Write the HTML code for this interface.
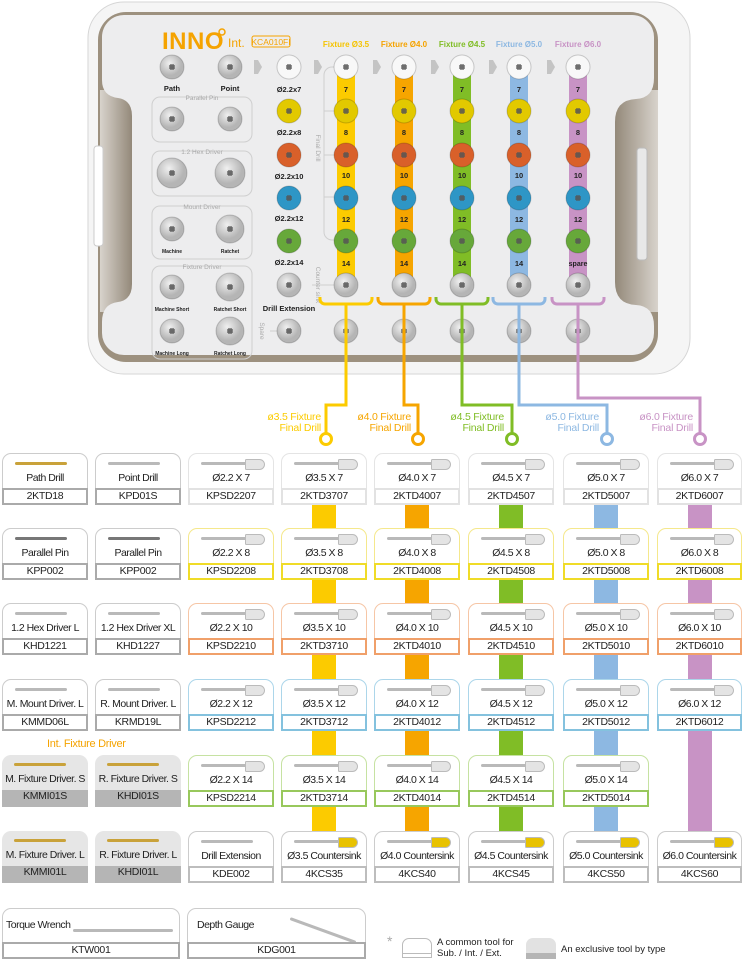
<!DOCTYPE html>
<html><head><meta charset="utf-8"><style>
body{margin:0;width:744px;height:959px;position:relative;background:#fff;font-family:"Liberation Sans",sans-serif;overflow:hidden}
svg{position:absolute;left:0;top:0}
.c{position:absolute;width:86px;height:52px;border:1px solid #ccc;border-radius:9px 9px 0 0;background:#fff;box-sizing:border-box;color:#222}
.c .n{position:absolute;top:18px;left:-4px;right:-4px;text-align:center;font-size:10.5px;letter-spacing:-0.5px;white-space:nowrap}
.c .k{position:absolute;left:-1px;right:-1px;bottom:-1px;height:17px;border:2px solid #aaa;box-sizing:border-box;text-align:center;font-size:10.5px;line-height:13px;background:#fff;letter-spacing:-0.3px}
.c .t{position:absolute;top:8px;left:12px;width:52px;height:3px;background:#b9b9b9;border-radius:2px}
.c .h{position:absolute;top:5px;left:56px;width:18px;height:9px;background:#e4e4e4;border:1px solid #bbb;border-radius:2px 8px 8px 2px}
.g{background:#e6e6e6;border:none}
.g .k{border:none;background:#b5b5b5;left:0;right:0;bottom:0}
.r1{border-color:#e4e4e4}.r1 .k{border-color:#e2e2e2}
.r2{border-color:#f5e88c}.r2 .k{border-color:#f0dc28}
.r3{border-color:#f6c6a6}.r3 .k{border-color:#f0a06a}
.r4{border-color:#acd6ea}.r4 .k{border-color:#84c2de}
.r5{border-color:#c6e2a2}.r5 .k{border-color:#98c85c}
.r6{border-color:#ccc}.r6 .k{border-color:#bdbdbd}
.bar{position:absolute;width:24px}
</style></head><body>
<svg width="744" height="959" viewBox="0 0 744 959">
<defs>
<g id="p"><path d="M-3,-1 L3,-1 M-1,-3 L-1,3 M1,-3 L1,3 M-3,1 L3,1" stroke="#555" stroke-width="1.2"/></g>
<radialGradient id="gg" cx="40%" cy="35%"><stop offset="0" stop-color="#f0f0f0"/><stop offset="1" stop-color="#b5b5b5"/></radialGradient>
<linearGradient id="nl" x1="0" x2="1"><stop offset="0" stop-color="#d8d3cc"/><stop offset="1" stop-color="#8f8474"/></linearGradient>
<linearGradient id="nr" x1="1" x2="0"><stop offset="0" stop-color="#d8d3cc"/><stop offset="1" stop-color="#8f8474"/></linearGradient>
</defs>
<!-- tray -->
<rect x="88" y="2" width="602" height="372" rx="36" fill="#f5f5f5" stroke="#d6d6d6"/>
<rect x="98" y="12" width="560" height="350" rx="28" fill="#9d917f"/>
<rect x="100" y="90" width="34" height="222" fill="url(#nl)"/>
<rect x="612" y="90" width="46" height="222" fill="url(#nr)"/>
<path d="M125,15 H632 A22,22 0 0 1 654,37 V78 Q654,98 636,99 Q615,100 615,122 V282 Q615,304 636,305 Q654,306 654,326 V333 A22,22 0 0 1 632,355 H124 A22,22 0 0 1 102,333 V322 Q102,304 118,302 Q132,300 132,284 V116 Q132,100 118,98 Q102,96 102,80 V37 A22,22 0 0 1 125,15 Z" fill="#ededee"/>
<rect x="94" y="146" width="9" height="100" rx="3" fill="#fff" stroke="#ccc"/>
<rect x="637" y="148" width="10" height="112" rx="3" fill="#e8e8e8" stroke="#bbb"/>
<!-- logo -->
<text x="162" y="49" font-size="24" font-weight="bold" fill="#f5a300" letter-spacing="0.5">INNO</text>
<circle cx="222" cy="32" r="3" fill="none" stroke="#f5a300" stroke-width="1.5"/>
<text x="228" y="47" font-size="12" fill="#f5a300">Int.</text>
<rect x="252" y="36" width="38" height="11" rx="2" fill="none" stroke="#f5a300"/>
<text x="271" y="45" font-size="8.5" fill="#f5a300" text-anchor="middle">KCA010FI</text>
<g font-size="8" font-weight="bold" text-anchor="middle">
<text x="346" y="47" fill="#f5c400">Fixture Ø3.5</text>
<text x="404" y="47" fill="#f5a300">Fixture Ø4.0</text>
<text x="462" y="47" fill="#80bd26">Fixture Ø4.5</text>
<text x="519" y="47" fill="#8db8e2">Fixture Ø5.0</text>
<text x="578" y="47" fill="#c893c5">Fixture Ø6.0</text>
</g>
<!-- arrows -->
<g fill="#c4c4c4">
<path d="M254,60 h4 l4,7 l-4,7 h-4 z"/><path d="M314,60 h4 l4,7 l-4,7 h-4 z"/><path d="M373,60 h4 l4,7 l-4,7 h-4 z"/>
<path d="M431,60 h4 l4,7 l-4,7 h-4 z"/><path d="M489,60 h4 l4,7 l-4,7 h-4 z"/><path d="M547,60 h4 l4,7 l-4,7 h-4 z"/>
</g>
<!-- group boxes -->
<g fill="none" stroke="#cfcfcf">
<rect x="152" y="97" width="100" height="45" rx="8"/>
<rect x="152" y="151" width="100" height="45" rx="8"/>
<rect x="152" y="206" width="100" height="53" rx="8"/>
<rect x="152" y="266" width="100" height="93" rx="8"/>
<path d="M340,67 h-8 a8,8 0 0 0 -8,8 v157 a8,8 0 0 0 8,8 h8 M324,111 h16 M324,155 h16 M324,197 h16"/>
<path d="M312,285 h22 M270,331 h12"/>
</g>
<g font-size="6.5" fill="#aaa" text-anchor="middle">
<text x="202" y="100" fill="#aaa">Parallel Pin</text>
<text x="202" y="154">1.2 Hex Driver</text>
<text x="202" y="209">Mount Driver</text>
<text x="202" y="269">Fixture Driver</text>
<text transform="translate(316,148) rotate(90)">Final Drill</text>
<text transform="translate(316,285) rotate(90)">Counter sink</text>
<text transform="translate(260,331) rotate(90)">Spare</text>
</g>
<!-- tray bars -->
<rect x="337" y="67" width="18" height="210" fill="#fccb00"/>
<rect x="395" y="67" width="18" height="210" fill="#f6a500"/>
<rect x="453" y="67" width="18" height="210" fill="#80bd26"/>
<rect x="510" y="67" width="18" height="210" fill="#8db8e2"/>
<rect x="569" y="67" width="18" height="210" fill="#c893c5"/>
<g font-size="7.5" font-weight="bold" text-anchor="middle" fill="#222">
<text x="346" y="92">7</text><text x="404" y="92">7</text><text x="462" y="92">7</text><text x="519" y="92">7</text><text x="578" y="92">7</text>
<text x="346" y="135">8</text><text x="404" y="135">8</text><text x="462" y="135">8</text><text x="519" y="135">8</text><text x="578" y="135">8</text>
<text x="346" y="178">10</text><text x="404" y="178">10</text><text x="462" y="178">10</text><text x="519" y="178">10</text><text x="578" y="178">10</text>
<text x="346" y="222">12</text><text x="404" y="222">12</text><text x="462" y="222">12</text><text x="519" y="222">12</text><text x="578" y="222">12</text>
<text x="346" y="266">14</text><text x="404" y="266">14</text><text x="462" y="266">14</text><text x="519" y="266">14</text><text x="578" y="266" font-size="7">spare</text>
<text x="289" y="92">Ø2.2x7</text><text x="289" y="135">Ø2.2x8</text><text x="289" y="179">Ø2.2x10</text><text x="289" y="221">Ø2.2x12</text><text x="289" y="265">Ø2.2x14</text>
<text x="289" y="311">Drill Extension</text>
<text x="172" y="91">Path</text><text x="230" y="91">Point</text>
<g font-size="5"><text x="172" y="253">Machine</text><text x="230" y="253">Ratchet</text>
<text x="172" y="311">Machine Short</text><text x="230" y="311">Ratchet Short</text>
<text x="172" y="355">Machine Long</text><text x="230" y="355">Ratchet Long</text></g>
</g>
<!-- screws -->
<g stroke="rgba(0,0,0,0.18)" stroke-width="1">
<g fill="#f8f8f8"><circle cx="289" cy="67" r="12"/><circle cx="346" cy="67" r="12"/><circle cx="404" cy="67" r="12"/><circle cx="462" cy="67" r="12"/><circle cx="519" cy="67" r="12"/><circle cx="578" cy="67" r="12"/></g>
<g fill="#e2c900"><circle cx="289" cy="111" r="12"/><circle cx="346" cy="111" r="12"/><circle cx="404" cy="111" r="12"/><circle cx="462" cy="111" r="12"/><circle cx="519" cy="111" r="12"/><circle cx="578" cy="111" r="12"/></g>
<g fill="#d9602a"><circle cx="289" cy="155" r="12"/><circle cx="346" cy="155" r="12"/><circle cx="404" cy="155" r="12"/><circle cx="462" cy="155" r="12"/><circle cx="519" cy="155" r="12"/><circle cx="578" cy="155" r="12"/></g>
<g fill="#2e96c6"><circle cx="289" cy="198" r="12"/><circle cx="346" cy="198" r="12"/><circle cx="404" cy="198" r="12"/><circle cx="462" cy="198" r="12"/><circle cx="519" cy="198" r="12"/><circle cx="578" cy="198" r="12"/></g>
<g fill="#67a83a"><circle cx="289" cy="241" r="12"/><circle cx="346" cy="241" r="12"/><circle cx="404" cy="241" r="12"/><circle cx="462" cy="241" r="12"/><circle cx="519" cy="241" r="12"/><circle cx="578" cy="241" r="12"/></g>
<g fill="url(#gg)"><circle cx="289" cy="285" r="12"/><circle cx="346" cy="285" r="12"/><circle cx="404" cy="285" r="12"/><circle cx="462" cy="285" r="12"/><circle cx="519" cy="285" r="12"/><circle cx="578" cy="285" r="12"/>
<circle cx="289" cy="331" r="12"/><circle cx="346" cy="331" r="12"/><circle cx="404" cy="331" r="12"/><circle cx="462" cy="331" r="12"/><circle cx="519" cy="331" r="12"/><circle cx="578" cy="331" r="12"/>
<circle cx="172" cy="67" r="12"/><circle cx="230" cy="67" r="12"/><circle cx="172" cy="119" r="12"/><circle cx="230" cy="119" r="12"/>
<circle cx="172" cy="173" r="15"/><circle cx="230" cy="173" r="15"/><circle cx="172" cy="229" r="12"/><circle cx="230" cy="229" r="14"/>
<circle cx="172" cy="287" r="12"/><circle cx="230" cy="287" r="14"/><circle cx="172" cy="331" r="12"/><circle cx="230" cy="331" r="14"/></g>
</g>
<g>
<use href="#p" x="289" y="67"/><use href="#p" x="346" y="67"/><use href="#p" x="404" y="67"/><use href="#p" x="462" y="67"/><use href="#p" x="519" y="67"/><use href="#p" x="578" y="67"/>
<use href="#p" x="289" y="111"/><use href="#p" x="346" y="111"/><use href="#p" x="404" y="111"/><use href="#p" x="462" y="111"/><use href="#p" x="519" y="111"/><use href="#p" x="578" y="111"/>
<use href="#p" x="289" y="155"/><use href="#p" x="346" y="155"/><use href="#p" x="404" y="155"/><use href="#p" x="462" y="155"/><use href="#p" x="519" y="155"/><use href="#p" x="578" y="155"/>
<use href="#p" x="289" y="198"/><use href="#p" x="346" y="198"/><use href="#p" x="404" y="198"/><use href="#p" x="462" y="198"/><use href="#p" x="519" y="198"/><use href="#p" x="578" y="198"/>
<use href="#p" x="289" y="241"/><use href="#p" x="346" y="241"/><use href="#p" x="404" y="241"/><use href="#p" x="462" y="241"/><use href="#p" x="519" y="241"/><use href="#p" x="578" y="241"/>
<use href="#p" x="289" y="285"/><use href="#p" x="346" y="285"/><use href="#p" x="404" y="285"/><use href="#p" x="462" y="285"/><use href="#p" x="519" y="285"/><use href="#p" x="578" y="285"/>
<use href="#p" x="289" y="331"/><use href="#p" x="346" y="331"/><use href="#p" x="404" y="331"/><use href="#p" x="462" y="331"/><use href="#p" x="519" y="331"/><use href="#p" x="578" y="331"/>
<use href="#p" x="172" y="67"/><use href="#p" x="230" y="67"/><use href="#p" x="172" y="119"/><use href="#p" x="230" y="119"/>
<use href="#p" x="172" y="173"/><use href="#p" x="230" y="173"/><use href="#p" x="172" y="229"/><use href="#p" x="230" y="229"/>
<use href="#p" x="172" y="287"/><use href="#p" x="230" y="287"/><use href="#p" x="172" y="331"/><use href="#p" x="230" y="331"/>
</g>
<!-- connectors -->
<g fill="none" stroke-width="3">
<path d="M320,297 v2 a5,5 0 0 0 5,5 h42 a5,5 0 0 0 5,-5 v-2 M346,304 V405 H326 V433" stroke="#fccb00"/>
<path d="M378,297 v2 a5,5 0 0 0 5,5 h42 a5,5 0 0 0 5,-5 v-2 M404,304 V405 H418 V433" stroke="#f6a500"/>
<path d="M436,297 v2 a5,5 0 0 0 5,5 h42 a5,5 0 0 0 5,-5 v-2 M462,304 V405 H512 V433" stroke="#80bd26"/>
<path d="M493,297 v2 a5,5 0 0 0 5,5 h42 a5,5 0 0 0 5,-5 v-2 M519,304 V405 H607 V433" stroke="#8db8e2"/>
<path d="M552,297 v2 a5,5 0 0 0 5,5 h42 a5,5 0 0 0 5,-5 v-2 M578,304 V398 H700 V433" stroke="#c893c5"/>
<circle cx="326" cy="439" r="5.5" stroke="#fccb00"/>
<circle cx="418" cy="439" r="5.5" stroke="#f6a500"/>
<circle cx="512" cy="439" r="5.5" stroke="#80bd26"/>
<circle cx="607" cy="439" r="5.5" stroke="#8db8e2"/>
<circle cx="700" cy="439" r="5.5" stroke="#c893c5"/>
</g>
<g font-size="10.5" text-anchor="end" letter-spacing="-0.2">
<text x="321" y="420" fill="#fccb00">ø3.5 Fixture</text><text x="321" y="431" fill="#fccb00">Final Drill</text>
<text x="411" y="420" fill="#f6a500">ø4.0 Fixture</text><text x="411" y="431" fill="#f6a500">Final Drill</text>
<text x="504" y="420" fill="#80bd26">ø4.5 Fixture</text><text x="504" y="431" fill="#80bd26">Final Drill</text>
<text x="599" y="420" fill="#8db8e2">ø5.0 Fixture</text><text x="599" y="431" fill="#8db8e2">Final Drill</text>
<text x="693" y="420" fill="#c893c5">ø6.0 Fixture</text><text x="693" y="431" fill="#c893c5">Final Drill</text>
</g>
</svg>

<div class="bar" style="left:312px;top:505px;height:326px;background:#fccb00"></div>
<div class="bar" style="left:405px;top:505px;height:326px;background:#f6a500"></div>
<div class="bar" style="left:499px;top:505px;height:326px;background:#80bd26"></div>
<div class="bar" style="left:594px;top:505px;height:326px;background:#8db8e2"></div>
<div class="bar" style="left:688px;top:505px;height:326px;background:#c893c5"></div>

<!-- row1 -->
<div class="c" style="left:2px;top:453px"><i class="t" style="background:#c9a23a"></i><div class="n">Path Drill</div><div class="k">2KTD18</div></div>
<div class="c" style="left:95px;top:453px"><i class="t"></i><div class="n">Point Drill</div><div class="k">KPD01S</div></div>
<div class="c r1" style="left:188px;top:453px"><i class="t"></i><i class="h"></i><div class="n">Ø2.2 X 7</div><div class="k">KPSD2207</div></div>
<div class="c r1" style="left:281px;top:453px"><i class="t"></i><i class="h"></i><div class="n">Ø3.5 X 7</div><div class="k">2KTD3707</div></div>
<div class="c r1" style="left:374px;top:453px"><i class="t"></i><i class="h"></i><div class="n">Ø4.0 X 7</div><div class="k">2KTD4007</div></div>
<div class="c r1" style="left:468px;top:453px"><i class="t"></i><i class="h"></i><div class="n">Ø4.5 X 7</div><div class="k">2KTD4507</div></div>
<div class="c r1" style="left:563px;top:453px"><i class="t"></i><i class="h"></i><div class="n">Ø5.0 X 7</div><div class="k">2KTD5007</div></div>
<div class="c r1" style="left:657px;top:453px;width:85px"><i class="t"></i><i class="h"></i><div class="n">Ø6.0 X 7</div><div class="k">2KTD6007</div></div>
<!-- row2 -->
<div class="c" style="left:2px;top:528px"><i class="t" style="background:#777"></i><div class="n">Parallel Pin</div><div class="k">KPP002</div></div>
<div class="c" style="left:95px;top:528px"><i class="t" style="background:#777"></i><div class="n">Parallel Pin</div><div class="k">KPP002</div></div>
<div class="c r2" style="left:188px;top:528px"><i class="t"></i><i class="h"></i><div class="n">Ø2.2 X 8</div><div class="k">KPSD2208</div></div>
<div class="c r2" style="left:281px;top:528px"><i class="t"></i><i class="h"></i><div class="n">Ø3.5 X 8</div><div class="k">2KTD3708</div></div>
<div class="c r2" style="left:374px;top:528px"><i class="t"></i><i class="h"></i><div class="n">Ø4.0 X 8</div><div class="k">2KTD4008</div></div>
<div class="c r2" style="left:468px;top:528px"><i class="t"></i><i class="h"></i><div class="n">Ø4.5 X 8</div><div class="k">2KTD4508</div></div>
<div class="c r2" style="left:563px;top:528px"><i class="t"></i><i class="h"></i><div class="n">Ø5.0 X 8</div><div class="k">2KTD5008</div></div>
<div class="c r2" style="left:657px;top:528px;width:85px"><i class="t"></i><i class="h"></i><div class="n">Ø6.0 X 8</div><div class="k">2KTD6008</div></div>
<!-- row3 -->
<div class="c" style="left:2px;top:603px"><i class="t"></i><div class="n">1.2 Hex Driver L</div><div class="k">KHD1221</div></div>
<div class="c" style="left:95px;top:603px"><i class="t"></i><div class="n">1.2 Hex Driver XL</div><div class="k">KHD1227</div></div>
<div class="c r3" style="left:188px;top:603px"><i class="t"></i><i class="h"></i><div class="n">Ø2.2 X 10</div><div class="k">KPSD2210</div></div>
<div class="c r3" style="left:281px;top:603px"><i class="t"></i><i class="h"></i><div class="n">Ø3.5 X 10</div><div class="k">2KTD3710</div></div>
<div class="c r3" style="left:374px;top:603px"><i class="t"></i><i class="h"></i><div class="n">Ø4.0 X 10</div><div class="k">2KTD4010</div></div>
<div class="c r3" style="left:468px;top:603px"><i class="t"></i><i class="h"></i><div class="n">Ø4.5 X 10</div><div class="k">2KTD4510</div></div>
<div class="c r3" style="left:563px;top:603px"><i class="t"></i><i class="h"></i><div class="n">Ø5.0 X 10</div><div class="k">2KTD5010</div></div>
<div class="c r3" style="left:657px;top:603px;width:85px"><i class="t"></i><i class="h"></i><div class="n">Ø6.0 X 10</div><div class="k">2KTD6010</div></div>
<!-- row4 -->
<div class="c" style="left:2px;top:679px"><i class="t"></i><div class="n">M. Mount Driver. L</div><div class="k">KMMD06L</div></div>
<div class="c" style="left:95px;top:679px"><i class="t"></i><div class="n">R. Mount Driver. L</div><div class="k">KRMD19L</div></div>
<div class="c r4" style="left:188px;top:679px"><i class="t"></i><i class="h"></i><div class="n">Ø2.2 X 12</div><div class="k">KPSD2212</div></div>
<div class="c r4" style="left:281px;top:679px"><i class="t"></i><i class="h"></i><div class="n">Ø3.5 X 12</div><div class="k">2KTD3712</div></div>
<div class="c r4" style="left:374px;top:679px"><i class="t"></i><i class="h"></i><div class="n">Ø4.0 X 12</div><div class="k">2KTD4012</div></div>
<div class="c r4" style="left:468px;top:679px"><i class="t"></i><i class="h"></i><div class="n">Ø4.5 X 12</div><div class="k">2KTD4512</div></div>
<div class="c r4" style="left:563px;top:679px"><i class="t"></i><i class="h"></i><div class="n">Ø5.0 X 12</div><div class="k">2KTD5012</div></div>
<div class="c r4" style="left:657px;top:679px;width:85px"><i class="t"></i><i class="h"></i><div class="n">Ø6.0 X 12</div><div class="k">2KTD6012</div></div>
<div style="position:absolute;left:47px;top:738px;font-size:11px;color:#f5a300;letter-spacing:-0.3px">Int. Fixture Driver</div>
<!-- row5 -->
<div class="c g" style="left:2px;top:755px"><i class="t" style="background:#c9a23a"></i><div class="n">M. Fixture Driver. S</div><div class="k">KMMI01S</div></div>
<div class="c g" style="left:95px;top:755px"><i class="t" style="background:#c9a23a"></i><div class="n">R. Fixture Driver. S</div><div class="k">KHDI01S</div></div>
<div class="c r5" style="left:188px;top:755px"><i class="t"></i><i class="h"></i><div class="n">Ø2.2 X 14</div><div class="k">KPSD2214</div></div>
<div class="c r5" style="left:281px;top:755px"><i class="t"></i><i class="h"></i><div class="n">Ø3.5 X 14</div><div class="k">2KTD3714</div></div>
<div class="c r5" style="left:374px;top:755px"><i class="t"></i><i class="h"></i><div class="n">Ø4.0 X 14</div><div class="k">2KTD4014</div></div>
<div class="c r5" style="left:468px;top:755px"><i class="t"></i><i class="h"></i><div class="n">Ø4.5 X 14</div><div class="k">2KTD4514</div></div>
<div class="c r5" style="left:563px;top:755px"><i class="t"></i><i class="h"></i><div class="n">Ø5.0 X 14</div><div class="k">2KTD5014</div></div>
<!-- row6 -->
<div class="c g" style="left:2px;top:831px"><i class="t" style="background:#c9a23a"></i><div class="n">M. Fixture Driver. L</div><div class="k">KMMI01L</div></div>
<div class="c g" style="left:95px;top:831px"><i class="t" style="background:#c9a23a"></i><div class="n">R. Fixture Driver. L</div><div class="k">KHDI01L</div></div>
<div class="c r6" style="left:188px;top:831px"><i class="t"></i><div class="n">Drill Extension</div><div class="k">KDE002</div></div>
<div class="c r6" style="left:281px;top:831px"><i class="t"></i><i class="h" style="background:#e8c200"></i><div class="n">Ø3.5 Countersink</div><div class="k">4KCS35</div></div>
<div class="c r6" style="left:374px;top:831px"><i class="t"></i><i class="h" style="background:#e8c200"></i><div class="n">Ø4.0 Countersink</div><div class="k">4KCS40</div></div>
<div class="c r6" style="left:468px;top:831px"><i class="t"></i><i class="h" style="background:#e8c200"></i><div class="n">Ø4.5 Countersink</div><div class="k">4KCS45</div></div>
<div class="c r6" style="left:563px;top:831px"><i class="t"></i><i class="h" style="background:#e8c200"></i><div class="n">Ø5.0 Countersink</div><div class="k">4KCS50</div></div>
<div class="c r6" style="left:657px;top:831px;width:85px"><i class="t"></i><i class="h" style="background:#e8c200"></i><div class="n">Ø6.0 Countersink</div><div class="k">4KCS60</div></div>
<!-- row7 -->
<div class="c" style="left:2px;top:908px;width:178px;height:51px"><i class="t" style="left:70px;width:100px;top:20px"></i><div class="n" style="text-align:left;left:3px;top:10px">Torque Wrench</div><div class="k">KTW001</div></div>
<div class="c" style="left:187px;top:908px;width:179px;height:51px"><i class="t" style="left:100px;width:70px;top:20px;transform:rotate(20deg)"></i><div class="n" style="text-align:left;left:9px;top:10px">Depth Gauge</div><div class="k">KDG001</div></div>
<!-- legend -->
<div style="position:absolute;left:387px;top:933px;font-size:14px;color:#aaa">*</div>
<div style="position:absolute;left:402px;top:938px;width:30px;height:20px;border:1px solid #bbb;border-radius:7px 7px 0 0;box-sizing:border-box"></div>
<div style="position:absolute;left:402px;top:953px;width:30px;height:1px;background:#bbb"></div>
<div style="position:absolute;left:437px;top:937px;font-size:9.5px;line-height:11px;color:#222">A common tool for<br>Sub. / Int. / Ext.</div>
<div style="position:absolute;left:526px;top:938px;width:30px;height:21px;background:#e2e2e2;border-radius:7px 7px 0 0"></div>
<div style="position:absolute;left:526px;top:953px;width:30px;height:6px;background:#b5b5b5"></div>
<div style="position:absolute;left:561px;top:944px;font-size:9.5px;color:#222">An exclusive tool by type</div>
</body></html>
